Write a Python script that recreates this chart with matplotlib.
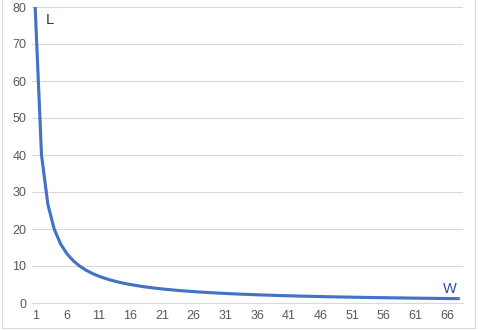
import matplotlib
matplotlib.use("Agg")
import matplotlib.pyplot as plt
from matplotlib.patches import Rectangle

# ------------------------- #
# Dados
# ------------------------- #
w_values = list(range(1, 69))
l_values = [
    80, 40, 26.67, 20, 16, 13.33, 11.43, 10, 8.89, 8,
    7.27, 6.67, 6.15, 5.71, 5.33, 5, 4.71, 4.44, 4.21, 4,
    3.81, 3.64, 3.48, 3.33, 3.2, 3.08, 2.96, 2.86, 2.76, 2.67,
    2.58, 2.5, 2.42, 2.35, 2.29, 2.22, 2.16, 2.11, 2.05, 2,
    1.95, 1.9, 1.86, 1.82, 1.78, 1.74, 1.7, 1.67, 1.63, 1.6,
    1.57, 1.54, 1.51, 1.48, 1.45, 1.43, 1.4, 1.38, 1.36, 1.33,
    1.31, 1.29, 1.27, 1.25, 1.23, 1.21, 1.19, 1.18,
]
x_ticks = list(range(1, 69, 5))
y_ticks = list(range(0, 81, 10))

plt.rcParams['font.family'] = ['Liberation Sans', 'DejaVu Sans']

fig = plt.figure(figsize=(4.8, 3.3), dpi=100)
ax = fig.add_axes([32 / 480, 1 - 303 / 330, 431 / 480, 296 / 330])

ax.plot(w_values, l_values, color="#4472C4", linewidth=2.25,
        solid_capstyle="butt", zorder=3)

ax.set_xlim(0.5, 68.5)
ax.set_ylim(0, 80)
ax.set_xticks(x_ticks)
ax.set_yticks(y_ticks)
ax.grid(axis="y", color="#D9D9D9", linewidth=0.8)
ax.set_axisbelow(True)
for side in ["top", "right", "left"]:
    ax.spines[side].set_visible(False)
ax.spines["bottom"].set_color("#D9D9D9")
ax.tick_params(length=0, labelsize=9, labelcolor="#595959")
ax.tick_params(axis="x", pad=5)
ax.tick_params(axis="y", pad=4)

ax.text(2.6, 75.5, "L", color="#203864", fontsize=10.5)
ax.text(65.3, 2.6, "W", color="#2F4FA8", fontsize=10.5)

# borda da área do gráfico
fig.patches.append(Rectangle((2 / 480, 2 / 330), 473 / 480, 1.1,
                             transform=fig.transFigure, fill=False,
                             edgecolor="#D9D9D9", linewidth=0.8))

fig.savefig("out.png", dpi=100)
